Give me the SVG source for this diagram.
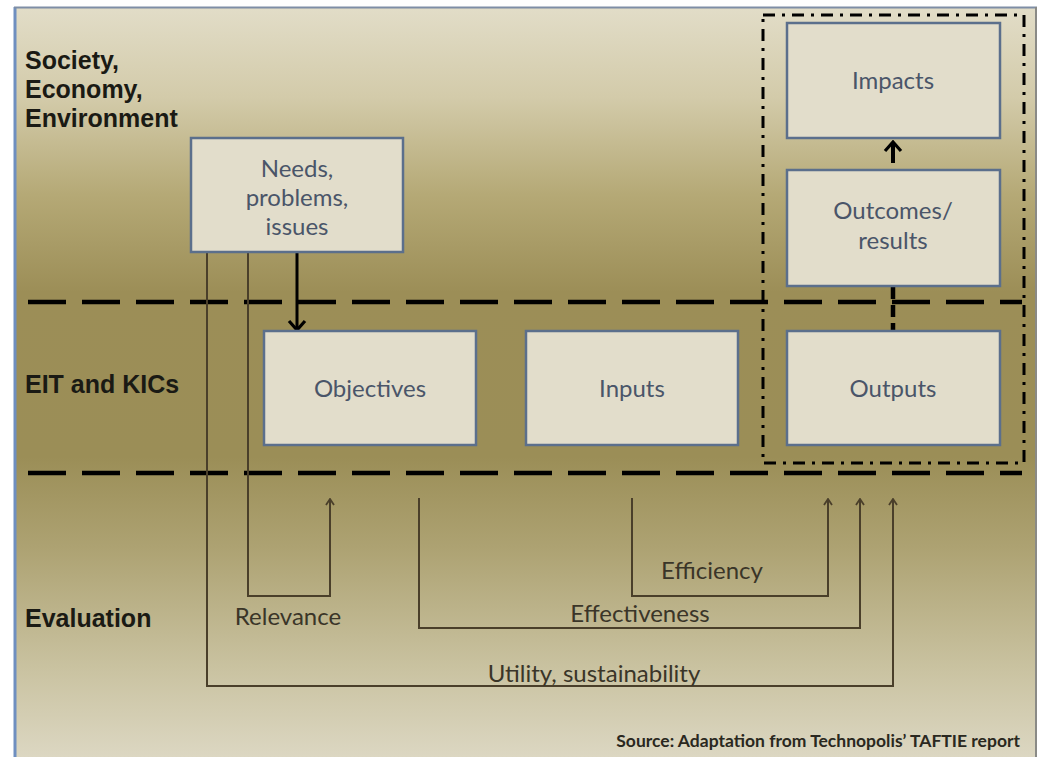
<svg xmlns="http://www.w3.org/2000/svg" width="1040" height="757" viewBox="0 0 1040 757">
<defs>
<linearGradient id="bg" x1="0" y1="0" x2="0" y2="1">
<stop offset="0" stop-color="#e2ddc8"/>
<stop offset="0.12" stop-color="#d3cbaa"/>
<stop offset="0.25" stop-color="#b5a976"/>
<stop offset="0.38" stop-color="#9c8e57"/>
<stop offset="0.6" stop-color="#9b8e57"/>
<stop offset="0.72" stop-color="#ada272"/>
<stop offset="0.88" stop-color="#c9c2a0"/>
<stop offset="1" stop-color="#dcd7c2"/>
</linearGradient>
<marker id="thin" viewBox="0 0 10 10" refX="9" refY="5" markerWidth="10" markerHeight="10" markerUnits="userSpaceOnUse" orient="auto">
<path d="M3,1 L9,5 L3,9" fill="none" stroke="#4a3f2a" stroke-width="1.8"/>
</marker>
<marker id="thick" viewBox="0 0 20 20" refX="18" refY="10" markerWidth="20" markerHeight="20" markerUnits="userSpaceOnUse" orient="auto">
<path d="M9,2 L18,10 L9,18" fill="none" stroke="#000" stroke-width="3.2"/>
</marker>
</defs>
<style>
.box{fill:#e2ddcb;stroke:#5b6f8c;stroke-width:2.5}
.nt{font-family:Lato,"Open Sans",sans-serif;font-size:24px;fill:#4a5569;text-anchor:middle}
.lab{font-family:"Liberation Sans",Arial,sans-serif;font-size:25px;font-weight:bold;fill:#1a1a14}
.el{font-family:Lato,"Open Sans",sans-serif;font-size:24px;fill:#3a3528;text-anchor:middle}
.thin{fill:none;stroke:#4a3f2a;stroke-width:2}
.band{stroke:#000;stroke-width:4.5;stroke-dasharray:38 16;fill:none}
</style>
<rect x="0" y="0" width="1040" height="757" fill="#ffffff"/>
<rect x="14" y="7" width="1023" height="750" fill="url(#bg)"/>
<line x1="15" y1="7" x2="15" y2="757" stroke="#6f8fc0" stroke-width="3"/>
<line x1="14" y1="7.5" x2="1037" y2="7.5" stroke="#7e8ea6" stroke-width="2"/>
<line x1="1036" y1="7" x2="1036" y2="757" stroke="#8a8a86" stroke-width="2"/>

<g id="labels">
<text class="lab" x="25" y="69">Society,</text>
<text class="lab" x="25" y="98">Economy,</text>
<text class="lab" x="25" y="127">Environment</text>
<text class="lab" x="25" y="393">EIT and KICs</text>
<text class="lab" x="25" y="627">Evaluation</text>
</g>

<g id="bands">
<line class="band" x1="28" y1="302" x2="1022" y2="302"/>
<line class="band" x1="28" y1="473" x2="1022" y2="473"/>
<rect x="763" y="15" width="261" height="448" fill="none" stroke="#000" stroke-width="3" stroke-dasharray="12 7 3 7"/>
</g>

<g id="connectors">
<path class="thin" d="M248,252 V596 H330 V499" marker-end="url(#thin)"/>
<path class="thin" d="M207,252 V686 H893 V499" marker-end="url(#thin)"/>
<path class="thin" d="M419,498 V628 H860 V499" marker-end="url(#thin)"/>
<path class="thin" d="M632,498 V596 H828 V499" marker-end="url(#thin)"/>
<line x1="297" y1="252" x2="297" y2="330" stroke="#000" stroke-width="3" marker-end="url(#thick)"/>
<line x1="893" y1="163" x2="893" y2="142" stroke="#000" stroke-width="4" marker-end="url(#thick)"/>
<line x1="893" y1="287" x2="893" y2="331" stroke="#000" stroke-width="4.5" stroke-dasharray="12 6"/>
</g>

<g id="needs">
<rect class="box" x="191" y="138" width="212" height="114"/>
<text class="nt" x="297" y="177">Needs,</text>
<text class="nt" x="297" y="206">problems,</text>
<text class="nt" x="297" y="235">issues</text>
</g>
<g id="impacts">
<rect class="box" x="787" y="23" width="213" height="115"/>
<text class="nt" x="893" y="89">Impacts</text>
</g>
<g id="outcomes">
<rect class="box" x="787" y="170" width="213" height="116"/>
<text class="nt" x="893" y="219">Outcomes/</text>
<text class="nt" x="893" y="249">results</text>
</g>
<g id="objectives">
<rect class="box" x="264" y="331" width="212" height="114"/>
<text class="nt" x="370" y="397">Objectives</text>
</g>
<g id="inputs">
<rect class="box" x="526" y="331" width="212" height="114"/>
<text class="nt" x="632" y="397">Inputs</text>
</g>
<g id="outputs">
<rect class="box" x="787" y="331" width="213" height="114"/>
<text class="nt" x="893" y="397">Outputs</text>
</g>

<g id="eval-labels">
<text class="el" x="288" y="625">Relevance</text>
<text class="el" x="712" y="579">Efficiency</text>
<text class="el" x="640" y="622">Effectiveness</text>
<text class="el" x="594" y="682">Utility, sustainability</text>
<text x="1020" y="747" text-anchor="end" font-family="Lato,'Open Sans',sans-serif" font-size="17.5" font-weight="bold" fill="#2a2820">Source: Adaptation from Technopolis’ TAFTIE report</text>
</g>
</svg>
